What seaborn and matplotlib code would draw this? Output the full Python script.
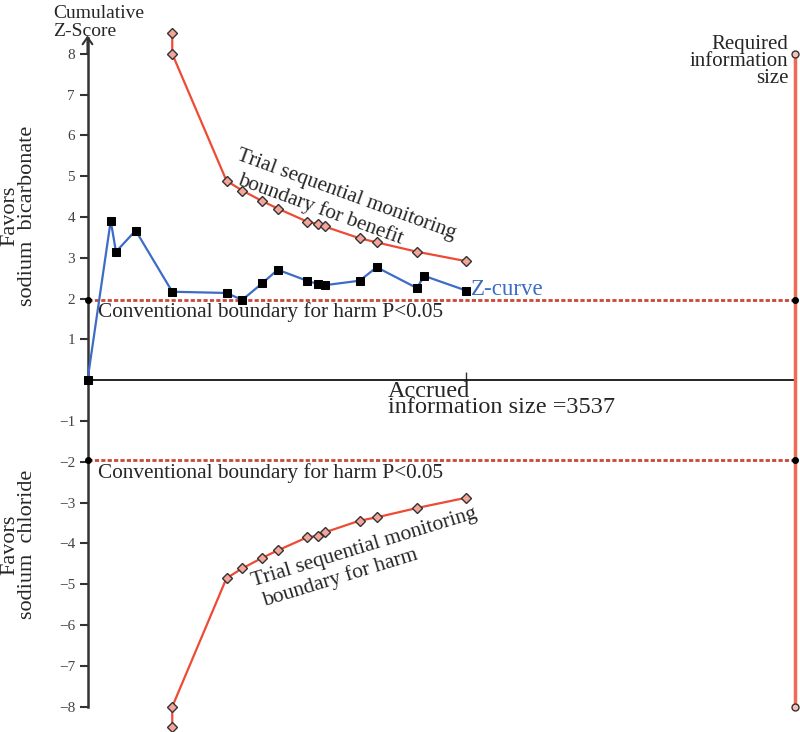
import numpy as np
import pandas as pd
import matplotlib
matplotlib.use("Agg")
import matplotlib.pyplot as plt
import seaborn as sns

# cumulative information (patients) at each trial and the z-values
info_size = [0, 217, 266, 450, 792, 1299, 1446, 1634, 1777, 2051, 2152, 2215, 2543, 2702, 3079, 3145, 3537]
z_curve = [0, 3.91, 3.15, 3.67, 2.17, 2.14, 1.97, 2.38, 2.71, 2.44, 2.36, 2.33, 2.44, 2.77, 2.26, 2.56, 2.20]

# alpha-spending monitoring boundaries
bound_x = [792, 792, 1299, 1446, 1634, 1777, 2051, 2152, 2215, 2543, 2702, 3079, 3537]
bound_benefit = [8.5, 8.0, 4.89, 4.65, 4.39, 4.21, 3.89, 3.83, 3.77, 3.48, 3.38, 3.15, 2.92]
bound_harm = [-8.5, -8.0, -4.85, -4.61, -4.35, -4.17, -3.85, -3.81, -3.73, -3.44, -3.36, -3.13, -2.88]

accrued = 3537
required = 6611
conv = 1.96
yticks = [-8, -7, -6, -5, -4, -3, -2, -1, 1, 2, 3, 4, 5, 6, 7, 8]

sns.set_style("white")
plt.rcParams['font.family'] = ['Liberation Serif', 'DejaVu Serif']

red = '#ee4a35'
blue = '#3c6cc6'

fig = plt.figure(figsize=(8, 7.32), dpi=100)
ax = fig.add_axes([87.5 / 800, 0, 1 - 87.5 / 800, 1])
ax.set_xlim(0, 6658)
ax.set_ylim(-8.62, 9.32)

# conventional boundaries
for yv in (conv, -conv):
    ax.hlines(yv, 0, required, color='#c8483a', lw=2, linestyles=(0, (1.5, 0.8)), zorder=2)
    ax.plot([0, required], [yv, yv], 'o', color='black', ms=4, zorder=5, clip_on=False)

# required information size
sns.lineplot(x=[required, required], y=[8, -8], estimator=None, sort=False, color='#f06a55', lw=2.5, ax=ax, zorder=3)
ax.plot([required, required], [8, -8], 'o', ms=5, mfc='#f8c0b8', mec='#333333', mew=1, zorder=6, clip_on=False)

# monitoring boundaries
for b in (bound_benefit, bound_harm):
    sns.lineplot(x=bound_x, y=b, estimator=None, sort=False, color=red, lw=1.6,
                 marker='D', markersize=5, markerfacecolor='#f5a49a', markeredgecolor='#333333',
                 markeredgewidth=1, ax=ax, zorder=4, clip_on=False)

# z-curve
sns.lineplot(x=info_size, y=z_curve, estimator=None, sort=False, color=blue, lw=1.6,
             marker='s', markersize=5.5, markerfacecolor='black', markeredgecolor='black',
             ax=ax, zorder=5, clip_on=False)

# axes styling
for s in ('top', 'right'):
    ax.spines[s].set_visible(False)
ax.spines['bottom'].set_position(('data', 0))
ax.spines['bottom'].set_bounds(0, required)
ax.spines['bottom'].set_color('black')
ax.spines['bottom'].set_linewidth(1.2)
ax.spines['left'].set_bounds(-8, 8.4)
ax.spines['left'].set_color('#333333')
ax.spines['left'].set_linewidth(1.8)
ax.annotate('', xy=(0, 8.45), xytext=(0, 8.0),
            arrowprops=dict(arrowstyle='->,head_length=0.5,head_width=0.35', lw=1.5, color='#333333',
                            shrinkA=0, shrinkB=0))

ax.set_yticks(yticks)
ax.set_yticklabels([f'{t}' if t > 0 else f'\u2212{-t}' for t in yticks])
ax.tick_params(axis='y', direction='out', length=6, width=1.5, color='#333333', pad=3,
               labelsize=11, labelcolor='#444444', left=True)
ax.set_xticks([accrued])
ax.set_xticklabels([''])
ax.tick_params(axis='x', direction='in', length=6, width=1, color='#333333', bottom=True)
ax.set_xlabel('')
ax.set_ylabel('')

# annotations
ax.text(-320, 8.44, 'Cumulative\nZ-Score', fontsize=14, ha='left', va='baseline', linespacing=1.04)
ax.text(-640, 4.02, 'Favors\nsodium  bicarbonate', fontsize=16, rotation=90, ha='center', va='center', linespacing=0.88)
ax.text(-640, -4.03, 'Favors\nsodium  chloride', fontsize=16, rotation=90, ha='center', va='center', linespacing=0.88)
ax.text(101, 1.54, 'Conventional boundary for harm P<0.05', fontsize=15.3, ha='left', va='baseline')
ax.text(101, -2.39, 'Conventional boundary for harm P<0.05', fontsize=15.3, ha='left', va='baseline')
ax.text(3584, 2.22, 'Z-curve', fontsize=16.5, color=blue, ha='left', va='center')
ax.text(2808, -0.81, 'Accrued\ninformation size =3537', fontsize=17.5, ha='left', va='baseline', linespacing=0.69)
ax.text(6549, 7.28, 'Required\ninformation\nsize', fontsize=15, ha='right', va='baseline',
        multialignment='right', linespacing=0.88)
ax.text(2416, 4.54, 'Trial sequential monitoring', fontsize=15.3, rotation=-20, rotation_mode='anchor',
        ha='center', va='center')
ax.text(2173, 4.18, 'boundary for benefit', fontsize=15.3, rotation=-20, rotation_mode='anchor',
        ha='center', va='center')
ax.text(2584, -4.11, 'Trial sequential monitoring', fontsize=15.5, rotation=17, rotation_mode='anchor',
        ha='center', va='center')
ax.text(2360, -4.84, 'boundary for harm', fontsize=15.5, rotation=17, rotation_mode='anchor',
        ha='center', va='center')

fig.savefig('out.png', dpi=100)
